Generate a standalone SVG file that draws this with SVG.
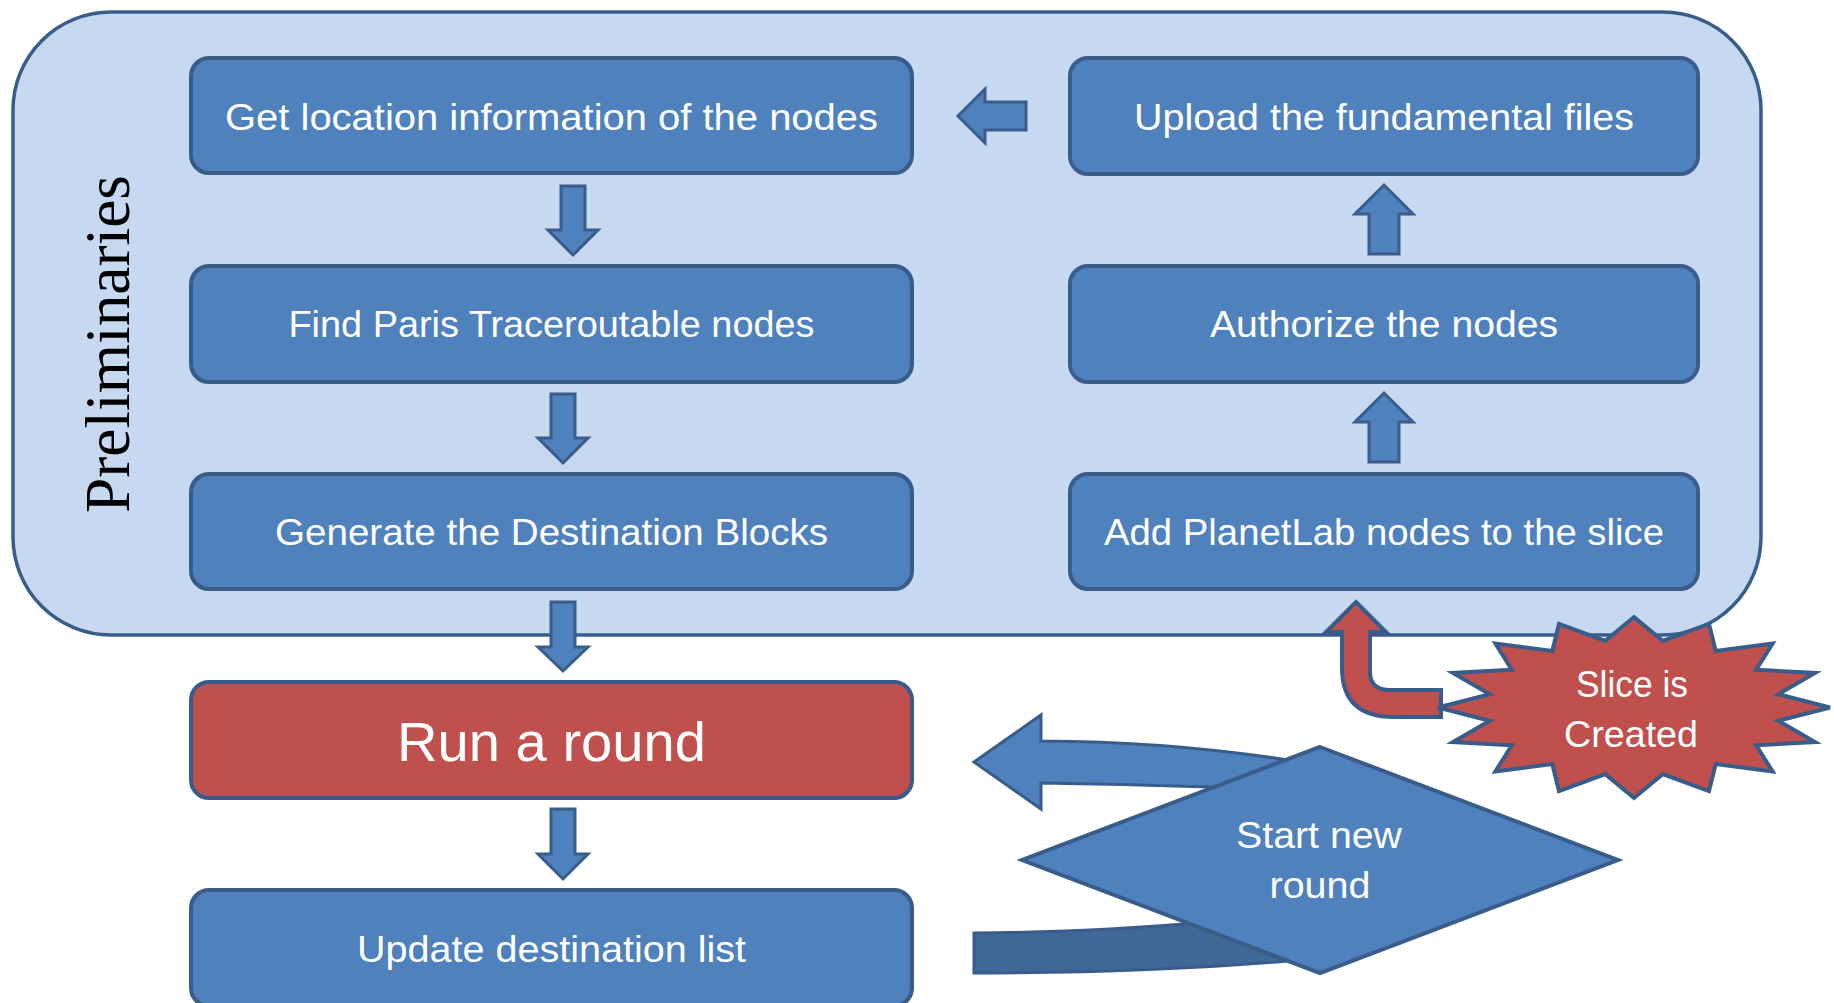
<svg xmlns="http://www.w3.org/2000/svg" width="1834" height="1003" viewBox="0 0 1834 1003">
<style>
.box{fill:#4F81BD;stroke:#385D8A;stroke-width:4}
.red{fill:#C0504D;stroke:#385D8A;stroke-width:4}
.arr{fill:#4F81BD;stroke:#385D8A;stroke-width:3;stroke-linejoin:miter}
.t{font-family:"Liberation Sans",Arial,sans-serif;font-size:36px;fill:#FFFFFF;text-anchor:middle}
.big{font-size:55px}
</style>
<rect width="1834" height="1003" fill="#FFFFFF"/>
<g id="preliminaries">
<rect x="13" y="12" width="1748" height="623" rx="98" ry="98" fill="#C6D9F1" stroke="#385D8A" stroke-width="3.5"/>
<text transform="translate(129,344) rotate(-90)" font-family="Liberation Serif,'Times New Roman',serif" font-size="64" fill="#000000" text-anchor="middle" textLength="338" lengthAdjust="spacingAndGlyphs">Preliminaries</text>
</g>
<g id="connectors">
<path class="arr" d="M561,186 L585,186 L585,230 L598,230 L573,255 L548,230 L561,230 Z"/>
<path class="arr" d="M551,394 L575,394 L575,438 L588,438 L563,463 L538,438 L551,438 Z"/>
<path class="arr" d="M551,602 L575,602 L575,647 L588,647 L563,671 L538,647 L551,647 Z"/>
<path class="arr" d="M551,809 L575,809 L575,854 L588,854 L563,879 L538,854 L551,854 Z"/>
<path class="arr" d="M1369,254 L1399,254 L1399,214 L1413,214 L1384,185 L1355,214 L1369,214 Z"/>
<path class="arr" d="M1369,462 L1399,462 L1399,422 L1413,422 L1384,393 L1355,422 L1369,422 Z"/>
<path class="arr" d="M1026,102 L1026,130 L985,130 L985,143 L958,116 L985,89 L985,102 Z"/>
<path d="M1356,602 L1386,632 L1370,632 L1370,672 Q1370,690 1390,690 L1441,690 L1441,717 L1394,717 Q1342,717 1342,668 L1342,632 L1326,632 Z" fill="#C0504D" stroke="#385D8A" stroke-width="4"/>
<path d="M974,933 Q1100,932 1205,922 L1300,960 Q1150,973 974,973 Z" fill="#3F6899" stroke="#385D8A" stroke-width="3"/>
<path class="arr" d="M974,762 L1041,715 L1041,741 Q1180,742 1300,762 L1300,800 L1210,787 Q1120,784 1041,783 L1041,809 Z"/>
</g>
<g id="n-get-location">
<rect class="box" x="191" y="58" width="721" height="115" rx="18"/>
<text class="t" x="551.5" y="130" textLength="653" lengthAdjust="spacingAndGlyphs">Get location information of the nodes</text>
</g>
<g id="n-find-paris">
<rect class="box" x="191" y="266" width="721" height="116" rx="18"/>
<text class="t" x="551.5" y="337" textLength="526" lengthAdjust="spacingAndGlyphs">Find Paris Traceroutable nodes</text>
</g>
<g id="n-generate">
<rect class="box" x="191" y="474" width="721" height="115" rx="18"/>
<text class="t" x="551.5" y="545" textLength="553" lengthAdjust="spacingAndGlyphs">Generate the Destination Blocks</text>
</g>
<g id="n-run-round">
<rect class="red" x="191" y="682" width="721" height="116" rx="18"/>
<text class="t big" x="551.5" y="761" textLength="309" lengthAdjust="spacingAndGlyphs">Run a round</text>
</g>
<g id="n-update">
<rect class="box" x="191" y="890" width="721" height="116" rx="18"/>
<text class="t" x="551.5" y="962" textLength="389" lengthAdjust="spacingAndGlyphs">Update destination list</text>
</g>
<g id="n-upload">
<rect class="box" x="1070" y="58" width="628" height="116" rx="18"/>
<text class="t" x="1384" y="130" textLength="500" lengthAdjust="spacingAndGlyphs">Upload the fundamental files</text>
</g>
<g id="n-authorize">
<rect class="box" x="1070" y="266" width="628" height="116" rx="18"/>
<text class="t" x="1384" y="337" textLength="348" lengthAdjust="spacingAndGlyphs">Authorize the nodes</text>
</g>
<g id="n-add-planetlab">
<rect class="box" x="1070" y="474" width="628" height="115" rx="18"/>
<text class="t" x="1384" y="545" textLength="560" lengthAdjust="spacingAndGlyphs">Add PlanetLab nodes to the slice</text>
</g>
<g id="n-slice-created">
<polygon class="red" points="1830,707.5 1778.2,694.3 1815.1,672.9 1756.2,669.8 1772.6,643.5 1715.7,651.1 1709,623.9 1662.7,640.9 1634,617 1605.3,640.9 1559,623.9 1552.3,651.1 1495.4,643.5 1511.8,669.8 1452.9,672.9 1489.8,694.3 1438,707.5 1489.8,720.7 1452.9,742.1 1511.8,745.2 1495.4,771.5 1552.3,763.9 1559,791.1 1605.3,774.1 1634,798 1662.7,774.1 1709,791.1 1715.7,763.9 1772.6,771.5 1756.2,745.2 1815.1,742.1 1778.2,720.7"/>
<text class="t" x="1632" y="697" textLength="112" lengthAdjust="spacingAndGlyphs">Slice is</text>
<text class="t" x="1631" y="747" textLength="134" lengthAdjust="spacingAndGlyphs">Created</text>
</g>
<g id="n-start-new-round">
<polygon class="box" points="1320,747 1618,860 1320,973 1022,860"/>
<text class="t" x="1319" y="848" textLength="166" lengthAdjust="spacingAndGlyphs">Start new</text>
<text class="t" x="1320" y="898" textLength="101" lengthAdjust="spacingAndGlyphs">round</text>
</g>
</svg>
